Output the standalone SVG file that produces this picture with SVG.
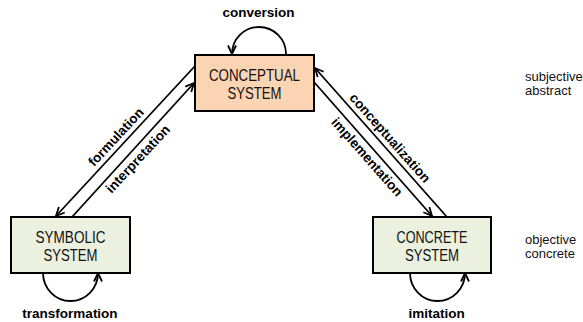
<svg xmlns="http://www.w3.org/2000/svg" width="583" height="322" viewBox="0 0 583 322">
<style>
.box{stroke:#000;stroke-width:2}
.bt{font-family:"Liberation Sans",Arial,sans-serif;font-size:16.5px;fill:#111;text-anchor:middle}
.lbl{font-family:"Liberation Sans",Arial,sans-serif;font-size:13.5px;font-weight:bold;fill:#000;text-anchor:middle}
.side{font-family:"Liberation Sans",Arial,sans-serif;font-size:13px;fill:#111}
.con{stroke:#000;stroke-width:1.8;fill:none;marker-end:url(#ah)}
</style>
<defs>
<marker id="ah" viewBox="0 0 10 10" refX="9.5" refY="5" markerWidth="10" markerHeight="10" markerUnits="userSpaceOnUse" orient="auto">
<path d="M1,1 L9.5,5 L1,9" fill="none" stroke="#000" stroke-width="1.8"/>
</marker>
</defs>
<rect width="583" height="322" fill="#fff"/>
<g id="connectors">
<line class="con" x1="195" y1="66" x2="56" y2="216"/>
<line class="con" x1="72" y1="217" x2="194" y2="83"/>
<line class="con" x1="447" y1="217" x2="315" y2="68"/>
<line class="con" x1="314" y1="82" x2="432" y2="216"/>
<path class="con" d="M286,54 A27,27 0 0 0 232,54"/>
<path class="con" d="M43,273 A27.5,28 0 0 0 98,273"/>
<path class="con" d="M410,273 A27.5,28 0 0 0 465,273"/>
<text class="lbl" x="258.5" y="17">conversion</text>
<text class="lbl" x="70" y="318">transformation</text>
<text class="lbl" x="436.5" y="318">imitation</text>
<g transform="translate(116,137) rotate(-47)"><text class="lbl" x="0" y="4.5">formulation</text></g>
<g transform="translate(138,159) rotate(-47)"><text class="lbl" x="0" y="4.5">interpretation</text></g>
<g transform="translate(390,138) rotate(48.5)"><text class="lbl" x="0" y="4.5">conceptualization</text></g>
<g transform="translate(367,157) rotate(48.5)"><text class="lbl" x="0" y="4.5">implementation</text></g>
</g>
<g id="conceptual">
<rect class="box" x="195" y="55" width="119" height="56" fill="#FBD4B4"/>
<text class="bt" x="254.5" y="81" textLength="91" lengthAdjust="spacingAndGlyphs">CONCEPTUAL</text>
<text class="bt" x="254.5" y="99" textLength="54" lengthAdjust="spacingAndGlyphs">SYSTEM</text>
</g>
<g id="symbolic">
<rect class="box" x="11" y="217" width="119" height="56" fill="#EBF0DF"/>
<text class="bt" x="70.5" y="243" textLength="70" lengthAdjust="spacingAndGlyphs">SYMBOLIC</text>
<text class="bt" x="70.5" y="261" textLength="54" lengthAdjust="spacingAndGlyphs">SYSTEM</text>
</g>
<g id="concrete">
<rect class="box" x="373" y="217" width="118" height="56" fill="#EBF0DF"/>
<text class="bt" x="432" y="243" textLength="71" lengthAdjust="spacingAndGlyphs">CONCRETE</text>
<text class="bt" x="432" y="261" textLength="54" lengthAdjust="spacingAndGlyphs">SYSTEM</text>
</g>
<g id="levels">
<text class="side" x="525" y="81">subjective</text>
<text class="side" x="525" y="95">abstract</text>
<text class="side" x="525" y="244">objective</text>
<text class="side" x="525" y="258">concrete</text>
</g>
</svg>
